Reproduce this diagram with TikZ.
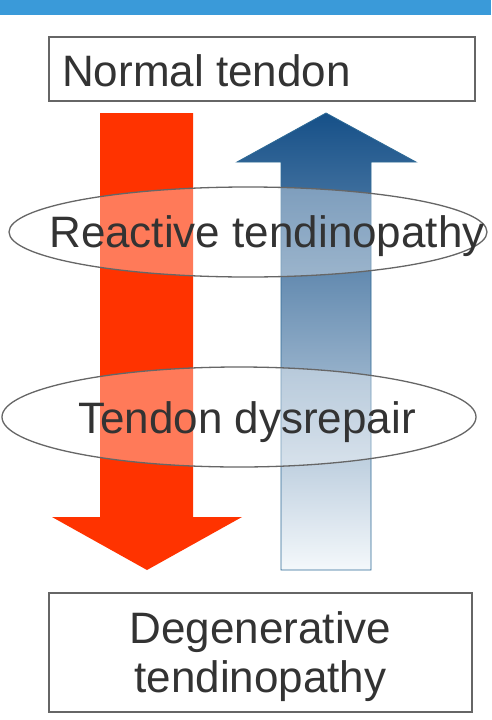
\documentclass[tikz,border=0pt]{standalone}
\usepackage{fontspec}
\setmainfont{Liberation Sans}
\usetikzlibrary{shapes.geometric}
\definecolor{barblue}{HTML}{3A9AD9}
\definecolor{redarr}{HTML}{FF3300}
\definecolor{bluetop}{HTML}{165088}
\definecolor{bluemid}{HTML}{8DB0CB}
\definecolor{bluebot}{HTML}{F4F8FB}
\definecolor{blueedge}{HTML}{2E6A96}
\definecolor{txt}{HTML}{333333}
\definecolor{edge}{HTML}{666666}
\tikzset{
  lbl/.style={text=txt, font=\fontsize{44}{50}\selectfont, inner sep=0pt},
  stagebox/.style={draw=edge, line width=1.2pt, fill=none},
  stageoval/.style={ellipse, draw=edge, line width=1.3pt, fill=white, fill opacity=0.35, draw opacity=1, inner sep=0pt},
}
\begin{document}
\begin{tikzpicture}[x=1pt,y=-1pt]
\useasboundingbox (0,0) rectangle (491,720);
\fill[white] (0,0) rectangle (491,720);
% top bar
\fill[barblue] (0,0) rectangle (491,15);
% boxes
\node[stagebox, minimum width=426pt, minimum height=64pt, inner sep=0pt] (nb) at (262,69) {};
\node[lbl, anchor=base west] (nt) at (62,86) {Normal tendon};
\node[stagebox, minimum width=423pt, minimum height=119pt, inner sep=0pt] (db) at (260.5,652.5) {};
\node[lbl, anchor=base] (dt1) at (260.5,643) {Degenerative};
\node[lbl, anchor=base] (dt2) at (260.5,692) {tendinopathy};
% red arrow (down)
\fill[redarr] (100,113) -- (193,113) -- (193,517) -- (242,517) -- (147,570) -- (52,517) -- (100,517) -- cycle;
% blue arrow (up)
\shade[top color=bluetop, middle color=bluemid, bottom color=bluebot, draw=blueedge, line width=0.8pt]
  (326,113) -- (416,162) -- (371,162) -- (371,570) -- (281,570) -- (281,162) -- (237,162) -- cycle;
% ellipses
\node[stageoval, minimum width=478pt, minimum height=90pt] (e1) at (248,232) {};
\node[lbl, anchor=base] (t1) at (267,247) {Reactive tendinopathy};
\node[stageoval, minimum width=474pt, minimum height=100pt] (e2) at (239,417) {};
\node[lbl, anchor=base] (t2) at (247,433) {Tendon dysrepair};
\end{tikzpicture}
\end{document}
